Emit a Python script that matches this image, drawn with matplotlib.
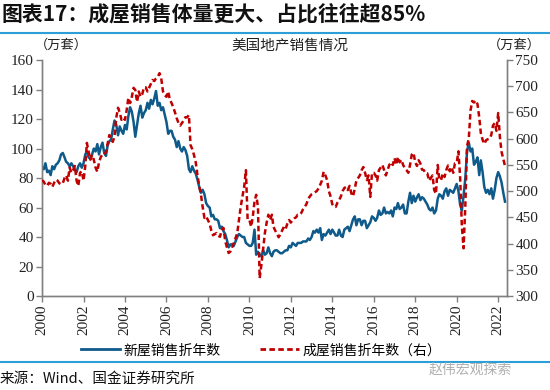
import numpy as np
import pandas as pd
import matplotlib
matplotlib.use("Agg")
import matplotlib.pyplot as plt
import matplotlib.dates as mdates
from matplotlib.lines import Line2D

plt.rcParams['font.family'] = ['Noto Sans CJK SC', 'DejaVu Sans']

# 新屋销售折年数 (万套), monthly 2000-01 .. 2022-05
new_sales = [
    87, 86, 90, 84, 85, 82, 88, 86, 89, 90, 92, 96,          # 2000
    97, 94, 91, 90, 88, 90, 88, 86, 84, 88, 90, 87,          # 2001
    90, 96, 98, 94, 93, 96, 100, 98, 103, 96, 101, 104,      # 2002
    97, 95, 102, 105, 106, 113, 119, 116, 109, 115, 112, 110,  # 2003
    116, 113, 122, 128, 125, 118, 108, 116, 124, 129, 121, 124,  # 2004
    126, 131, 127, 133, 130, 134, 139, 129, 131, 126, 128, 123,  # 2005
    118, 110, 112, 112, 108, 106, 101, 105, 100, 98, 101, 99,    # 2006
    95, 86, 84, 88, 85, 83, 79, 74, 70, 72, 69, 63,          # 2007
    61, 60, 54, 55, 52, 52, 51, 46, 47, 44, 42, 38,          # 2008
    33, 35, 35, 34, 37, 40, 42, 41, 40, 40, 36, 35,          # 2009
    34, 34, 36, 45, 28, 30, 28, 27, 31, 28, 29, 33,          # 2010
    29, 27, 30, 31, 31, 30, 29, 29, 30, 31, 31, 34,          # 2011
    33, 36, 35, 34, 36, 36, 36, 37, 37, 37, 39, 38,          # 2012
    40, 44, 43, 45, 43, 46, 38, 42, 41, 43, 45, 42,          # 2013
    45, 43, 41, 41, 45, 41, 40, 45, 46, 47, 44, 48,          # 2014
    52, 54, 48, 52, 52, 48, 51, 51, 46, 48, 50, 54,          # 2015
    53, 51, 53, 58, 55, 56, 60, 56, 57, 56, 58, 54,          # 2016
    60, 59, 63, 59, 60, 62, 56, 56, 64, 70, 63, 68,          # 2017
    64, 67, 69, 65, 67, 66, 64, 62, 59, 58, 60, 56,          # 2018
    58, 66, 69, 68, 66, 71, 73, 68, 72, 71, 70, 73,          # 2019
    76, 71, 62, 58, 68, 80, 98, 104, 98, 100, 89, 91,        # 2020
    94, 82, 92, 84, 74, 70, 72, 69, 73, 66, 72, 80,          # 2021
    84, 81, 77, 70, 64,                                      # 2022
]

# 成屋销售折年数 (万套, 右轴)
existing_sales = [
    521, 518, 512, 510, 516, 514, 508, 516, 522, 520, 515, 513,  # 2000
    515, 525, 530, 520, 545, 535, 540, 548, 520, 510, 535, 538,  # 2001
    520, 548, 592, 575, 560, 569, 560, 545, 537, 555, 565, 570,  # 2002
    569, 575, 590, 607, 600, 594, 605, 640, 659, 650, 636, 640,  # 2003
    636, 655, 678, 668, 680, 697, 693, 670, 690, 680, 685, 698,  # 2004
    698, 690, 697, 705, 712, 710, 715, 718, 725, 715, 690, 683,  # 2005
    680, 690, 675, 668, 660, 650, 639, 630, 625, 630, 635, 641,  # 2006
    641, 645, 588, 580, 569, 555, 531, 510, 493, 470, 449, 452,  # 2007
    445, 438, 425, 416, 418, 420, 415, 413, 426, 430, 405, 393,  # 2008
    382, 385, 392, 401, 410, 420, 445, 470, 490, 508, 540, 445,  # 2009
    445, 432, 450, 480, 493, 470, 334, 360, 390, 420, 440, 455,  # 2010
    445, 455, 432, 425, 418, 412, 418, 425, 432, 428, 438, 445,  # 2011
    440, 445, 448, 450, 455, 455, 458, 465, 470, 475, 485, 490,  # 2012
    494, 496, 498, 500, 505, 512, 520, 537, 530, 521, 500, 490,  # 2013
    475, 470, 470, 478, 483, 490, 500, 506, 508, 502, 510, 496,  # 2014
    490, 505, 520, 525, 530, 540, 546, 535, 521, 530, 489, 535,  # 2015
    535, 530, 520, 540, 545, 550, 540, 530, 540, 550, 555, 550,  # 2016
    563, 550, 565, 555, 560, 550, 544, 540, 535, 550, 570, 573,  # 2017
    555, 548, 559, 553, 541, 540, 534, 534, 520, 525, 530, 502,  # 2018
    495, 550, 522, 521, 534, 527, 540, 549, 538, 546, 535, 553,  # 2019
    554, 576, 527, 433, 391, 472, 586, 600, 654, 672, 669, 673,  # 2020
    666, 641, 611, 598, 590, 597, 599, 600, 607, 625, 630, 615,  # 2021
    649, 602, 575, 561, 548,                                     # 2022
]

dates = pd.date_range('2000-01-01', periods=len(new_sales), freq='MS')

left_ticks = [0, 20, 40, 60, 80, 100, 120, 140, 160]
right_ticks = [300, 350, 400, 450, 500, 550, 600, 650, 700, 750]

blue = '#0E5A8A'
red = '#C00000'
axis_gray = '#808080'
sep_blue = '#2A9FD8'
serif = 'Liberation Serif'

fig = plt.figure(figsize=(5.5, 3.9), dpi=100)
ax = fig.add_axes([0.0764, 0.241, 0.8454, 0.605])
ax2 = ax.twinx()

ax.plot(dates, new_sales, color=blue, lw=1.8, zorder=3)
ax2.plot(dates, existing_sales, color=red, lw=1.8, linestyle=(0, (2.2, 1.3)), zorder=3)

ax.set_xlim(pd.Timestamp('2000-01-01'), pd.Timestamp('2022-06-05'))
ax.set_ylim(0, 160)
ax2.set_ylim(300, 750)
ax.set_yticks(left_ticks)
ax2.set_yticks(right_ticks)
ax.xaxis.set_major_locator(mdates.YearLocator(2))
ax.xaxis.set_major_formatter(mdates.DateFormatter('%Y'))

for a in (ax, ax2):
    a.spines['top'].set_visible(False)
    for s in ('left', 'right', 'bottom'):
        a.spines[s].set_color(axis_gray)
        a.spines[s].set_linewidth(1.0)
    a.tick_params(colors=axis_gray, labelcolor='#222222', length=4, width=1.0)
    for lab in a.get_yticklabels() + a.get_xticklabels():
        lab.set_fontfamily(serif)
        lab.set_fontsize(11)
ax.tick_params(axis='x', rotation=90, pad=2)
ax.tick_params(axis='y', pad=2)
ax2.tick_params(axis='y', pad=2)

# texts
fig.text(0.003, 0.963, '图表17：成屋销售体量更大、占比往往超85%', fontsize=15,
         fontweight='bold', style='italic', ha='left', va='center', color='#111111')
fig.text(0.527, 0.883, '美国地产销售情况', fontsize=10.5, ha='center', va='center', color='#222222')
fig.text(0.112, 0.883, '（万套）', fontsize=9.5, ha='center', va='center', color='#222222')
fig.text(0.935, 0.883, '（万套）', fontsize=9.5, ha='center', va='center', color='#222222')
fig.text(0.0, 0.03, '来源：Wind、国金证券研究所', fontsize=10.5, ha='left', va='center', color='#111111')
fig.text(0.93, 0.052, '赵伟宏观探索', fontsize=10, ha='right', va='center', color='#B0B0B0')

fig.add_artist(Line2D([0, 1], [0.915, 0.915], color=sep_blue, lw=1.5, transform=fig.transFigure))
fig.add_artist(Line2D([0, 1], [0.071, 0.071], color=sep_blue, lw=1.5, transform=fig.transFigure))

handles = [Line2D([], [], color=blue, lw=2.0),
           Line2D([], [], color=red, lw=2.0, linestyle=(0, (2, 1.2)))]
fig.legend(handles, ['新屋销售折年数', '成屋销售折年数（右）'], loc='center',
           bbox_to_anchor=(0.475, 0.102), ncol=2, frameon=False, fontsize=10,
           handlelength=2.8, columnspacing=2.8, handletextpad=0.3)

fig.savefig('out.png', dpi=100)
